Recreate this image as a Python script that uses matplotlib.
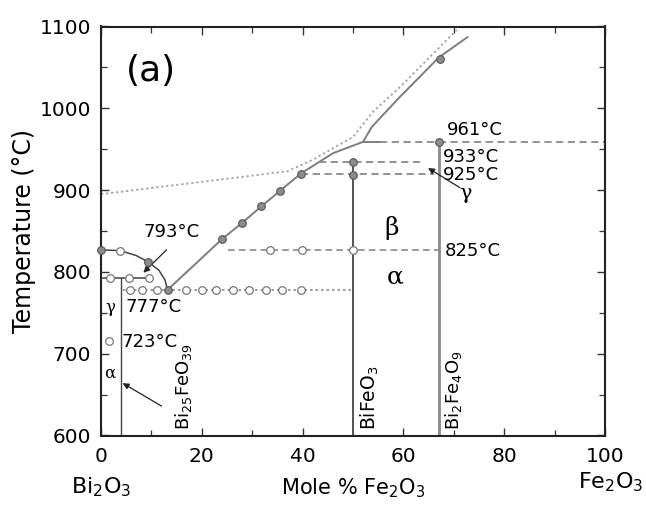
import matplotlib
matplotlib.use("Agg")
import matplotlib.pyplot as plt
from matplotlib.ticker import MultipleLocator

plt.rcParams["font.family"] = ["DejaVu Sans"]
plt.rcParams["mathtext.fontset"] = "dejavusans"

# Bi2O3-rich liquidus, curving down to the eutectic
BI_LIQ_X = [0, 3.8, 7, 9.4, 11.5, 12.7, 13.2]
BI_LIQ_T = [827, 826, 820, 812, 802, 790, 778]

# liquidus from the eutectic up to the peritectic kink
LIQ_X = [13.2, 24, 28, 31.8, 35.5, 39.6, 46, 52]
LIQ_T = [778, 840, 860, 880, 899, 920, 945, 959]
LIQ_PTS_X = [24, 28, 31.8, 35.5, 39.6]
LIQ_PTS_T = [840, 860, 880, 899, 920]

# liquidus above the peritectic
UP_X = [52, 53.7, 59, 67, 72.7]
UP_T = [959, 977, 1012, 1062, 1087]
UP_PT = (67.3, 1060)

# dotted literature liquidus
LIT_X = [0, 37, 42, 50, 54, 59.5, 65.3, 70.6]
LIT_T = [895, 923, 937, 965, 996, 1027, 1063, 1096]

# isotherms
T_961, T_933, T_925, T_825, T_793, T_777 = 959, 934, 920, 827, 793, 778
EUT_X = [5.8, 8.1, 11.1, 16.9, 20, 22.8, 26.2, 29.4, 32.7, 36, 39.6]
P793_X = [1.8, 5.6, 9.6]
P825_X = [33.5, 39.8]
P723 = (1.5, 715)

# compound lines
X_BI25 = 4
X_BFO = 50
X_B2F4 = 67

GREY = "#7d7d7d"
DARK = "#444444"

fig = plt.figure(figsize=(6.46, 5.08), dpi=100)
ax = fig.add_axes([101 / 646, 1 - 435.5 / 508, 504 / 646, 409 / 508])

filled = dict(marker="o", ms=5.5, mfc="#8c8c8c", mec="#555555", mew=0.8, ls="none", zorder=5)
hollow = dict(marker="o", ms=5.5, mfc="white", mec="#777777", mew=0.9, ls="none", zorder=5)

# literature liquidus (dotted)
ax.plot(LIT_X, LIT_T, color="#a0a0a0", lw=1.3, ls=(0, (1.2, 1.6)), clip_on=False)

# liquidus lines
ax.plot(BI_LIQ_X, BI_LIQ_T, color=DARK, lw=1.1)
ax.plot(LIQ_X, LIQ_T, color=GREY, lw=1.4)
ax.plot(UP_X, UP_T, color=GREY, lw=1.4)
ax.plot(LIQ_PTS_X, LIQ_PTS_T, **filled)
ax.plot(*UP_PT, **filled)
ax.plot([0], [BI_LIQ_T[0]], clip_on=False, **filled)
ax.plot([BI_LIQ_X[1]], [BI_LIQ_T[1]], **hollow)
ax.plot([BI_LIQ_X[3]], [BI_LIQ_T[3]], **filled)

# 961 peritectic
ax.plot([52, 55.4], [T_961, T_961], color=GREY, lw=1.4)
ax.plot([55.4, 100], [T_961, T_961], color="#8a8a8a", lw=1.3, ls=(0, (4, 2.5)))
ax.plot([X_B2F4], [T_961], **filled)

# 933 and 925
ax.plot([43.3, 64], [T_933, T_933], color="#8a8a8a", lw=1.3, ls=(0, (4, 2.5)))
ax.plot([39.6, 66], [T_925, T_925], color="#8a8a8a", lw=1.3, ls=(0, (4, 2.5)))
ax.plot([X_BFO], [T_933], **filled)
ax.plot([X_BFO], [T_925 - 1.5], **filled)

# 825 alpha/beta
ax.plot([25.2, 67], [T_825, T_825], color="#8a8a8a", lw=1.2, ls=(0, (4, 2.5)))
ax.plot(P825_X, [T_825] * len(P825_X), **hollow)
ax.plot([X_BFO], [T_825], **hollow)

# 793
ax.plot([0.3, 9.6], [T_793, T_793], color=DARK, lw=1.1)
ax.plot(P793_X, [T_793] * len(P793_X), **hollow)

# 777 eutectic
ax.plot([4.4, 50], [T_777, T_777], color="#8a8a8a", lw=1.2, ls=(0, (1.5, 1.8)))
ax.plot(EUT_X, [T_777] * len(EUT_X), **hollow)
ax.plot([13.2], [T_777], **filled)

# 723
ax.plot(*P723, **hollow)

# compound verticals
ax.plot([X_BI25, X_BI25], [600, T_793], color=DARK, lw=1.0)
ax.plot([X_BFO, X_BFO], [600, T_933], color="#555555", lw=1.4)
ax.plot([X_B2F4, X_B2F4], [600, T_961], color="#8a8a8a", lw=2.0)

# labels
fs = 13
ax.text(5.0, 1045, "(a)", fontsize=26, va="center", ha="left")
ax.text(68.6, 974, "961°C", fontsize=fs, va="center")
ax.text(67.9, 940, "933°C", fontsize=fs, va="center")
ax.text(67.9, 918, "925°C", fontsize=fs, va="center")
ax.text(68.3, 825, "825°C", fontsize=fs, va="center")
ax.text(8.4, 849, "793°C", fontsize=fs, va="center")
ax.text(4.8, 757, "777°C", fontsize=fs, va="center")
ax.text(4.1, 714, "723°C", fontsize=fs, va="center")

serif = ["DejaVu Serif"]
ax.text(57.7, 854, "β", fontsize=18, ha="center", va="center", family=serif)
ax.text(58.3, 794, "α", fontsize=18, ha="center", va="center", family=serif)
ax.text(72.4, 896, "γ", fontsize=15, ha="center", va="center", family=serif)
ax.text(1.8, 757, "γ", fontsize=12, ha="center", va="center", family=serif)
ax.text(1.7, 676, "α", fontsize=12, ha="center", va="center", family=serif)

arrow = dict(arrowstyle="-|>", color="#222222", lw=0.9, mutation_scale=9, shrinkA=0, shrinkB=0)
ax.annotate("", xy=(8.4, 799), xytext=(13, 827), arrowprops=arrow)
ax.annotate("", xy=(64.9, 927), xytext=(71.2, 903), arrowprops=arrow)
ax.annotate("", xy=(4.3, 664), xytext=(12, 636), arrowprops=arrow)

ax.text(16.4, 607, "Bi$_{25}$FeO$_{39}$", fontsize=13, rotation=90, ha="center", va="bottom")
ax.text(53.4, 607, "BiFeO$_3$", fontsize=13.5, rotation=90, ha="center", va="bottom")
ax.text(70.0, 607, "Bi$_2$Fe$_4$O$_9$", fontsize=13, rotation=90, ha="center", va="bottom")

# axes
ax.set_xlim(0, 100)
ax.set_ylim(600, 1100)
ax.xaxis.set_major_locator(MultipleLocator(20))
ax.xaxis.set_minor_locator(MultipleLocator(10))
ax.yaxis.set_major_locator(MultipleLocator(100))
ax.yaxis.set_minor_locator(MultipleLocator(50))
ax.tick_params(which="both", direction="in", top=True, right=True, labelsize=14.5, color="#333333")
ax.tick_params(which="major", length=6, width=1.0)
ax.tick_params(axis="x", which="major", pad=8)
ax.tick_params(axis="y", which="major", pad=7)
ax.tick_params(which="minor", length=4, width=0.9)
for s in ax.spines.values():
    s.set_linewidth(1.5)
    s.set_color("#222222")

ax.set_ylabel("Temperature (°C)", fontsize=17, labelpad=3)
ax.text(0.5, -0.128, "Mole % Fe$_2$O$_3$", transform=ax.transAxes,
        fontsize=15, ha="center", va="center")
ax.text(0, -0.126, "Bi$_2$O$_3$", transform=ax.transAxes, fontsize=16, ha="center", va="center")
fig.text(643 / 646, 1 - 482 / 508, "Fe$_2$O$_3$", fontsize=16, ha="right", va="center")

fig.savefig("out.png", dpi=100)
